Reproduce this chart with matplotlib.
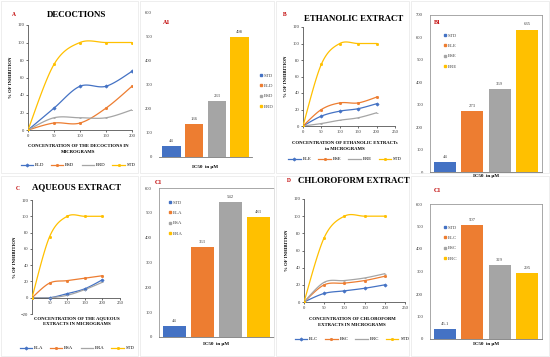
import numpy as np
import matplotlib
matplotlib.use("Agg")
import matplotlib.pyplot as plt
from matplotlib.patches import Rectangle

plt.rcParams['font.family'] = ['Liberation Serif', 'DejaVu Serif']

W, H = 550, 357
conc = [0, 50, 100, 150, 200]

# Panel A: decoctions
dec_names = ["BLD", "BSD", "BRD", "STD"]
dec_BLD = [0, 25, 50, 50, 67]
dec_BSD = [0, 8, 8, 25, 50]
dec_BRD = [0, 14, 14, 14, 23]
dec_STD = [0, 75, 100, 100, 100]

# Panel B: ethanolic
eth_names = ["BLE", "BSE", "BRE", "STD"]
eth_BLE = [0, 12, 18, 21, 27]
eth_BSE = [0, 20, 28, 28, 35]
eth_BRE = [0, 3, 7, 10, 16]
eth_STD = [0, 75, 100, 100, 100]

# Panel C: aqueous
aq_names = ["BLA", "BSA", "BRA", "STD"]
aq_BLA = [0, 0, 5, 11, 22]
aq_BSA = [0, 18, 21, 24, 27]
aq_BRA = [0, 0, 3, 10, 19]
aq_STD = [0, 75, 100, 100, 100]

# Panel D: chloroform
chl_names = ["BLC", "BSC", "BRC", "STD"]
chl_BLC = [0, 10, 13, 16, 20]
chl_BSC = [0, 20, 22, 25, 30]
chl_BRC = [0, 23, 25, 28, 33]
chl_STD = [0, 75, 100, 100, 100]

# IC50 bars
a1_cats = ["STD", "BLD", "BSD", "BRD"]
a1_vals = [44, 136, 233, 498]
b1_cats = ["STD", "BLE", "BSE", "BRE"]
b1_vals = [44, 273, 369, 635]
c1_cats = ["STD", "BLA", "BSA", "BRA"]
c1_vals = [44, 363, 542, 483]
d1_cats = ["STD", "BLC", "BSC", "BRC"]
d1_vals = [45.1, 507, 329, 295]
d1_labels = ["45.1", "507", "329", "295"]

colors = ["#4472C4", "#ED7D31", "#A5A5A5", "#FFC000"]
markers = ["D", "o", "_", "o"]

fig = plt.figure(figsize=(W / 100, H / 100), dpi=100)

def rect(x0, y0, x1, y1):
    return [x0 / W, 1 - y1 / H, (x1 - x0) / W, (y1 - y0) / H]

def ftxt(x, y, s, **kw):
    fig.text(x / W, 1 - y / H, s, **kw)

def smooth(xs, ys, n=30):
    xs = np.asarray(xs, float); ys = np.asarray(ys, float)
    P = np.stack([xs, ys], 1)
    out = [P[0]]
    for i in range(len(P) - 1):
        p0 = P[i - 1] if i > 0 else P[i]
        p1, p2 = P[i], P[i + 1]
        p3 = P[i + 2] if i + 2 < len(P) else P[i + 1]
        c1 = p1 + (p2 - p0) / 6
        c2 = p2 - (p3 - p1) / 6
        t = np.linspace(0, 1, n)[1:, None]
        seg = (1 - t) ** 3 * p1 + 3 * (1 - t) ** 2 * t * c1 + 3 * (1 - t) * t ** 2 * c2 + t ** 3 * p2
        out.extend(seg)
    out = np.array(out)
    return out[:, 0], out[:, 1]

# faint panel borders
for (x0, y0, x1, y1) in [(1, 1, 138, 173), (140, 1, 274, 173), (276, 1, 409, 173), (411, 1, 549, 173),
                         (1, 176, 138, 356), (140, 176, 274, 356), (276, 176, 409, 356), (411, 176, 549, 356)]:
    fig.patches.append(Rectangle((x0 / W, 1 - y1 / H), (x1 - x0) / W, (y1 - y0) / H,
                                 transform=fig.transFigure, fill=False, ec="#ebebeb", lw=0.6))

def line_panel(r, series, names, xmax, ylim, yticks, xticks, title, tpos, letter, lpos,
               xlabel, xlpos, legy, legx, zero_axis=False):
    ax = fig.add_axes(rect(*r))
    for i, (ys, nm) in enumerate(zip(series, names)):
        sx, sy = smooth(conc, ys)
        ax.plot(sx, sy, color=colors[i], lw=0.9, zorder=3 if nm == "STD" else 2)
        ax.plot(conc, ys, ls="none", marker=markers[i], ms=1.6, mew=0.6, color=colors[i], zorder=4)
    ax.set_xlim(0, xmax)
    ax.set_ylim(*ylim)
    ax.set_yticks(yticks)
    ax.set_xticks(xticks)
    for s in ["top", "right"]:
        ax.spines[s].set_visible(False)
    for s in ["left", "bottom"]:
        ax.spines[s].set_color("#555555")
        ax.spines[s].set_linewidth(0.6)
    if zero_axis:
        ax.spines["bottom"].set_position(("data", 0))
    ax.tick_params(labelsize=3.3, length=1.2, width=0.5, pad=1.5, colors="#333333")
    ax.set_ylabel("% OF INHIBITION", fontsize=3.4, fontweight="bold", labelpad=3)
    ftxt(tpos[0], tpos[1], title, fontsize=6.4, fontweight="bold", ha="center", va="center")
    ftxt(lpos[0], lpos[1], letter, fontsize=4, color="#C00000", ha="left", va="center", fontweight="bold")
    ftxt(xlpos[0], xlpos[1], xlabel, fontsize=3.4, fontweight="bold", ha="center", va="center",
         linespacing=1.5)
    handles = [plt.Line2D([], [], color=colors[i], lw=0.9, marker=markers[i], ms=1.6, mew=0.6)
               for i in range(4)]
    fig.legend(handles, names, loc="center", bbox_to_anchor=(legx / W, 1 - legy / H), ncol=4,
               fontsize=3.4, frameon=False, handlelength=2.6, columnspacing=1.5, handletextpad=0.4,
               borderpad=0)
    return ax

line_panel((28, 25, 132, 130), [dec_BLD, dec_BSD, dec_BRD, dec_STD], dec_names, 200, (0, 120),
           range(0, 121, 20), conc, "DECOCTIONS", (77, 15), "A", (12, 14),
           "CONCENTRATION OF THE DECOCTIONS IN\nMICROGRAMS", (78, 149), 165, 78)

line_panel((303, 27, 395, 126), [eth_BLE, eth_BSE, eth_BRE, eth_STD], eth_names, 250, (0, 120),
           range(0, 121, 20), range(0, 251, 50), "ETHANOLIC EXTRACT", (354, 19), "B", (283, 15),
           "CONCENTRATION OF ETHANOLIC EXTRACTs\nin MICROGRAMS", (345, 146), 159, 345)

line_panel((32, 200, 120, 314), [aq_BLA, aq_BSA, aq_BRA, aq_STD], aq_names, 250, (-20, 120),
           range(-20, 121, 20), range(50, 251, 50), "AQUEOUS EXTRACT", (77, 187), "C", (16, 189),
           "CONCENTRATION OF THE AQUEOUS\nEXTRACTS IN MICROGRAMS", (77, 321), 348, 77, zero_axis=True)

line_panel((304, 199, 405, 302), [chl_BLC, chl_BSC, chl_BRC, chl_STD], chl_names, 250, (0, 120),
           range(0, 121, 20), range(0, 251, 50), "CHLOROFORM EXTRACT", (354, 181), "D", (287, 180),
           "CONCENTRATION OF CHLOROFORM\nEXTRACTS IN MICROGRAMS", (352, 322), 339, 352)

def bar_panel(r, cats, vals, labels, ymax, step, letter, lpos, xlpos, frame, leg_anchor):
    ax = fig.add_axes(rect(*r))
    x = np.arange(len(cats))
    bars = ax.bar(x, vals, width=0.8, color=colors, zorder=2)
    for b, lab in zip(bars, labels):
        ax.text(b.get_x() + b.get_width() / 2, b.get_height() + ymax * 0.02, lab,
                ha="center", va="bottom", fontsize=3.4, color="#444444")
    ax.set_ylim(0, ymax)
    ax.set_yticks(range(0, ymax + 1, step))
    ax.set_xlim(-0.55, len(cats) - 0.45)
    ax.set_xticks([])
    for s in ["top", "right", "left"]:
        ax.spines[s].set_visible(frame)
        ax.spines[s].set_color("#9a9a9a")
        ax.spines[s].set_linewidth(0.6)
    ax.spines["bottom"].set_color("#777777")
    ax.spines["bottom"].set_linewidth(0.6)
    ax.tick_params(axis="y", labelsize=3.3, length=0, pad=5, colors="#333333")
    ftxt(xlpos[0], xlpos[1], "IC50  in µM", fontsize=3.6, fontweight="bold", ha="center", va="center")
    ftxt(lpos[0], lpos[1], letter, fontsize=4.3, color="#C00000", ha="left", va="center", fontweight="bold")
    handles = [plt.Line2D([], [], ls="none", marker="s", ms=2, color=c) for c in colors]
    fig.legend(handles, cats, loc="upper left", bbox_to_anchor=(leg_anchor[0] / W, 1 - leg_anchor[1] / H),
               fontsize=3.5, frameon=False, handlelength=0.6, handletextpad=0.3, labelspacing=1.2,
               borderpad=0, labelcolor="#444444")
    return ax

bar_panel((159, 12, 252, 157), a1_cats, a1_vals, [str(v) for v in a1_vals], 600, 100, "A1", (163, 23),
          (205, 167), False, (257, 71))
bar_panel((430, 15, 542, 172), b1_cats, b1_vals, [str(v) for v in b1_vals], 700, 100, "B1", (434, 23),
          (486, 176), True, (441, 31))
bar_panel((159, 188, 274, 337), c1_cats, c1_vals, [str(v) for v in c1_vals], 600, 100, "C1", (155, 183),
          (216, 344), True, (166, 198))
bar_panel((430, 204, 542, 339), d1_cats, d1_vals, d1_labels, 600, 100, "C1", (434, 191),
          (486, 344), True, (441, 223))

fig.savefig("out.png", dpi=100)
